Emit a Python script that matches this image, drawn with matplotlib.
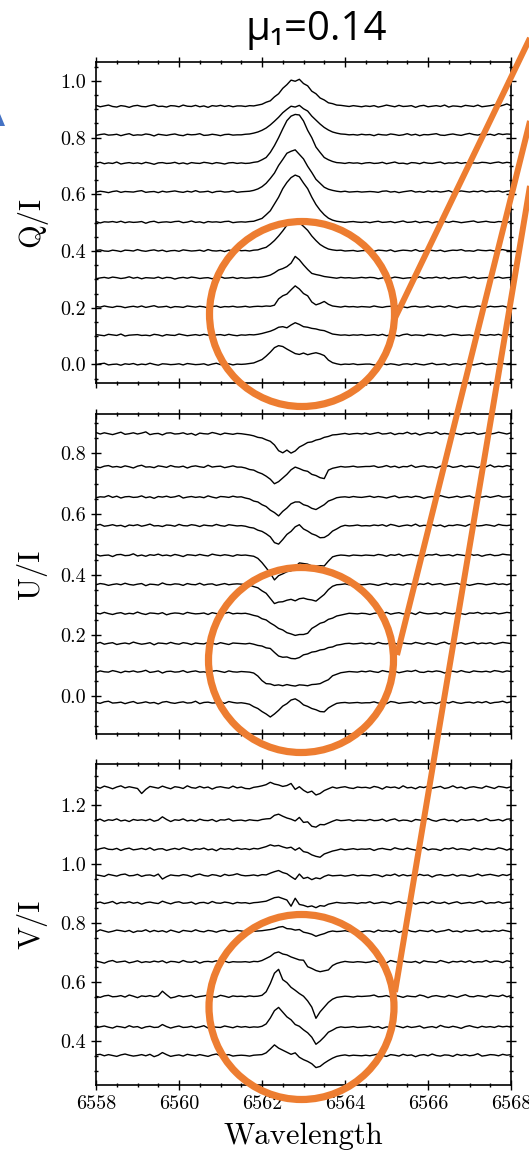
import numpy as np
import matplotlib
matplotlib.use("Agg")
import matplotlib.pyplot as plt
from matplotlib.ticker import MultipleLocator, FormatStrFormatter
from matplotlib.patches import Circle, Polygon

plt.rcParams['font.family'] = 'cmr10'
plt.rcParams['axes.unicode_minus'] = False
plt.rcParams['mathtext.fontset'] = 'cm'

# wavelength sampling (Angstrom), 0.1 A steps
wave = np.round(np.arange(6558.0, 6568.05, 0.1), 1)

# vertical offsets of the stacked spectra, bottom to top
q_offsets = [0.000, 0.103, 0.203, 0.305, 0.401, 0.502, 0.609, 0.710, 0.810, 0.911]
u_offsets = [-0.022, 0.080, 0.173, 0.272, 0.368, 0.464, 0.562, 0.656, 0.756, 0.865]
v_offsets = [0.351, 0.447, 0.551, 0.668, 0.772, 0.868, 0.961, 1.050, 1.148, 1.259]

# Stokes profiles in units of 1e-3, one row per 0.1 A
# (6558.0-6561.4 | 6561.5-6564.5 | 6564.6-6568.0)
q0 = [-1,2,4,-2,0, 1,-3,2,0,3, -2,1,-1,4,0, -3,2,1,-1,0, 2,-2,3,1,-1, 0,2,-3,1,4, -1,0,2,-2,1,
      0,1,3,5,11,17,29,43,59,66,63,54,46,38,35,40,34,38,41,37,31,15,6,2,-1,1,0,2,-1,0,1,
      1,-2,0,3,-1, 2,0,-3,1,2, -1,3,0,-2,1, 4,-1,0,2,-3, 1,2,-1,3,0, -2,1,4,-1,0, 2,-1,3,1,4]
q1 = [2,0,-2,3,1, -1,4,-3,0,1, 2,-1,0,-2,3, 1,-3,2,0,-1, 4,1,-2,0,2, -1,3,0,-2,1, 2,-1,3,0,-2,
      1,0,2,1,3,6,10,14,20,28,30,26,36,44,38,30,28,24,22,18,16,10,4,2,0,1,-1,1,0,2,-1,
      0,2,-1,3,-2, 1,0,-3,2,4, -1,1,0,-2,3, 2,-1,1,-3,0, 3,2,-1,0,1, -2,4,1,-1,2, 0,3,-2,1,2]
q2 = [1,-1,3,0,-2, 2,1,-3,0,2, -1,3,-2,1,4, -1,0,2,-3,1, 0,-2,3,1,-1, 2,0,-4,1,3, -2,1,0,2,-1,
      0,2,-1,1,2,1,3,2,6,28,39,45,60,74,63,47,39,17,7,12,19,9,3,1,-1,2,0,1,-1,1,0,
      -1,3,0,-2,1, 2,-1,4,0,-3, 1,2,-1,0,3, -2,1,2,-1,4, 0,-3,1,2,0, -1,3,1,-2,2, 0,1,3,-1,2]
q3 = [-3,0,2,-1,3, 1,-2,0,4,-1, 2,-3,1,0,-1, 3,-2,2,1,-4, 0,2,-1,3,1, -2,0,1,-3,2, 4,-1,0,2,-2,
      1,-1,0,2,1,3,6,10,18,28,33,40,52,76,64,46,30,16,12,9,5,3,1,-1,2,0,1,-1,0,2,0,
      2,1,-3,0,2, -1,3,1,-2,0, 1,-1,4,-2,1, 0,3,-1,2,-3, 1,0,2,4,-1, 3,-2,0,1,2, 0,3,-1,1,2]
q4 = [1,3,-1,-2,2, 0,-3,2,1,-1, 4,0,-2,1,3, -1,2,-3,0,1, -2,3,1,-1,0, 2,-2,4,0,-1, 1,-3,2,0,3,
      0,1,-1,2,3,8,12,23,36,52,70,90,100,106,99,86,72,52,36,22,13,6,3,1,2,-1,0,1,-2,0,1,
      0,-2,2,1,-1, 3,-3,0,2,1, -1,4,-2,0,3, 1,-1,2,-3,0, 2,1,4,-1,0, -2,3,1,0,2, -1,2,4,1,0]
q5 = [2,-3,1,0,2, -1,3,-2,1,-1, 0,2,-4,1,3, -2,0,1,-1,2, 3,-2,0,4,-1, 1,-3,2,0,1, -1,2,3,-2,0,
      1,0,2,3,8,13,26,40,64,88,118,140,157,166,160,138,118,88,62,42,26,14,7,3,1,-1,1,2,0,-1,1,
      -2,1,3,-1,0, 2,-2,1,4,-1, 0,3,-2,1,2, -3,1,0,2,-1, 3,1,-2,0,2, 4,-1,1,3,0, -1,2,1,-2,3]
q6 = [-1,2,0,-3,1, 3,-2,1,0,-1, 2,4,-2,0,1, -3,2,-1,1,3, 0,-2,2,-1,4, -1,0,2,-3,1, 2,-1,0,3,-2,
      0,1,2,5,10,18,30,47,66,93,114,136,143,148,132,116,90,68,44,30,16,9,5,2,0,2,-1,0,1,-1,0,
      1,0,-2,2,3, -1,1,-3,0,2, 4,-1,1,-2,3, 0,2,-1,1,4, -2,0,3,1,-1, 2,0,4,-1,2, 1,3,-1,2,4]
q7 = [0,3,-2,1,-1, 4,-3,0,2,-1, 1,-2,3,0,-4, 1,2,-1,0,3, -2,1,-3,2,0, -1,3,1,-2,2, 0,-3,1,2,-1,
      1,-1,0,3,5,12,20,38,62,90,121,150,166,172,170,149,116,90,57,38,20,12,6,2,1,-1,2,0,1,-2,1,
      2,-1,0,3,-2, 1,4,-1,0,-3, 2,1,-2,3,0, -1,2,4,-2,1, 0,3,-1,2,-2, 1,0,3,2,-1, 2,4,0,3,1]
q8 = [-2,1,3,-1,0, 2,-3,1,4,-2, 0,-1,3,1,-4, 2,0,-2,1,3, -1,-3,2,0,1, 4,-2,-1,2,0, -3,1,2,-1,0,
      0,2,3,6,10,16,24,35,48,62,78,90,101,98,104,92,84,66,52,38,26,17,10,6,3,2,0,1,-1,2,0,
      1,-3,2,0,-1, 3,1,-2,0,4, -1,2,-3,1,0, 2,4,-1,-2,1, 3,0,-2,2,5, 1,-1,3,0,2, -2,4,1,3,2]
q9 = [3,-2,1,4,-1, -3,2,0,-4,1, 3,-1,-2,2,5, -1,0,-3,2,1, -2,4,0,-1,3, -2,1,-4,2,0, 3,-1,2,-2,1,
      1,-1,2,1,4,7,14,19,33,44,63,76,92,88,95,80,72,53,44,29,22,12,9,4,3,1,-1,2,0,-2,1,
      -1,2,-3,0,4, 1,-2,3,-1,0, 2,-4,1,3,-2, 0,2,-1,4,-3, 1,0,-2,3,1, -1,4,-2,0,2, 5,-1,3,8,2]

u0 = [1,-2,3,5,-1, 0,2,-3,1,4, -2,0,3,-1,1, -4,2,4,0,-2, 1,3,-1,0,5, -3,1,2,-1,0, 3,-2,4,1,-1,
      0,-2,-5,-13,-19,-29,-37,-47,-37,-25,-11,-3,9,13,5,-7,-12,-19,-23,-29,-30,-17,-9,-2,0,1,-1,0,1,-1,0,
      0,3,-1,1,-3, 4,2,-2,0,1, 3,-1,5,-2,0, 1,-3,2,3,-1, 4,0,-2,1,2, -1,3,0,4,-2, 1,2,5,0,3]
u1 = [-2,3,0,-1,4, 1,-3,2,0,3, -1,1,5,-2,0, 3,-4,1,2,-1, 0,4,-2,1,3, -1,0,-3,2,4, 1,-2,3,0,-1,
      1,0,-1,-4,-14,-29,-39,-40,-45,-43,-46,-42,-45,-47,-43,-44,-46,-42,-41,-39,-32,-26,-13,-8,-3,-1,1,0,-1,2,0,
      3,0,-2,4,1, -1,2,-3,0,3, 1,5,-1,-2,2, 0,3,1,-4,1, 2,-1,4,0,-2, 3,1,0,2,-1, 4,2,-1,3,1]
u2 = [0,4,-2,1,3, -3,0,2,-1,5, 1,-2,0,3,-4, 2,1,-1,4,0, -2,3,1,-3,2, 0,-1,4,1,-2, 3,0,-3,2,1,
      0,-1,1,-2,-6,-8,-14,-16,-29,-41,-45,-44,-49,-50,-46,-37,-34,-28,-26,-21,-19,-13,-11,-5,-3,0,1,-1,0,2,-1,
      1,-2,4,0,-1, 3,1,-3,2,0, -1,4,1,-2,3, 0,-3,2,5,-1, 1,0,3,-2,1, 4,-1,2,0,3, -2,1,4,2,0]
u3 = [2,-1,4,0,-3, 1,3,-2,1,-1, 5,0,-3,2,1, -1,3,-4,0,2, 1,-2,4,1,-1, 0,2,-3,3,0, -2,1,4,-1,1,
      0,1,-2,-6,-9,-17,-21,-31,-39,-49,-54,-63,-67,-72,-69,-69,-65,-49,-41,-32,-28,-19,-15,-8,-5,-2,1,0,-1,1,0,
      -3,1,2,0,4, -2,1,3,-1,0, 2,-3,5,1,-1, 0,2,-2,4,1, -1,3,0,-3,2, 1,4,-1,2,0, 3,-1,1,4,2]
u4 = [-1,3,1,-3,0, 2,-1,4,0,-2, 1,3,-4,1,0, -2,5,0,-1,2, 1,-3,3,0,-1, 4,-2,1,2,-3, 0,3,-1,1,2,
      1,0,-2,-7,-11,-21,-29,-46,-63,-58,-57,-52,-49,-54,-47,-45,-49,-51,-55,-44,-33,-17,-6,-1,0,2,-1,0,1,-1,0,
      2,0,-3,1,4, -1,2,0,-2,3, 1,-4,2,0,5, -1,1,3,-2,0, 2,4,-1,1,-3, 0,3,2,-1,1, 4,0,2,-1,3]
u5 = [3,-2,0,1,-4, 2,3,-1,0,5, -2,1,-3,2,0, 4,-1,1,-2,3, 0,-4,2,1,-1, 3,0,-2,4,1, -1,2,0,-3,2,
      0,1,-1,-3,-10,-24,-41,-59,-81,-67,-61,-54,-51,-38,-25,-27,-29,-35,-36,-34,-35,-19,-5,-1,1,0,-2,1,0,-1,1,
      0,-1,3,1,-3, 2,0,4,-2,1, 3,-1,0,-3,2, 1,4,-1,0,2, -2,3,1,-1,5, 0,2,-3,1,3, -1,0,4,2,1]
u6 = [1,4,-2,0,3, -1,1,-4,2,0, 3,-2,1,5,-1, 0,-3,2,1,-2, 4,0,-1,3,1, -3,2,0,-1,4, 0,-2,3,1,-1,
      0,-2,-6,-8,-15,-19,-27,-37,-56,-61,-46,-29,-19,-4,3,-11,-18,-27,-32,-40,-39,-31,-18,-11,-3,1,-1,0,2,-1,0,
      -1,2,0,3,-2, 4,1,-3,0,2, -1,5,-2,1,0, 3,-1,2,-4,1, 0,3,1,-2,4, 2,-1,0,3,1, -2,4,1,0,2]
u7 = [-2,1,0,5,-1, 3,-3,1,2,-1, 0,4,-2,1,-4, 2,0,3,-1,1, 5,-3,0,2,-1, 1,-2,4,0,-3, 2,1,-1,3,0,
      1,-3,-6,-13,-16,-25,-31,-43,-51,-62,-47,-36,-22,-16,-16,-25,-29,-37,-41,-33,-25,-13,-8,-2,0,1,-1,2,0,-1,1,
      3,-1,2,0,-3, 1,4,-2,0,2, -1,3,1,-4,0, 2,-1,5,1,-2, 0,3,-1,2,4, -2,1,0,3,-1, 2,5,0,1,3]
u8 = [0,-3,2,4,-1, 1,-2,3,0,-4, 2,5,-1,0,-3, 3,1,-2,4,0, -1,2,-4,1,3, 0,-2,5,-1,1, 2,-3,0,3,-1,
      -1,-4,-9,-11,-18,-23,-31,-41,-56,-49,-37,-25,-10,-1,-6,-12,-15,-25,-29,-36,-39,-11,-5,-2,1,-1,0,2,-1,0,1,
      1,3,-2,0,4, -1,2,-3,1,0, 5,-2,1,3,-1, 0,-4,2,1,3, -2,0,4,-1,2, 1,-3,3,0,6, -1,2,0,4,1]
u9 = [4,-1,3,0,-3, 1,5,-2,0,3, -1,2,6,-3,0, 1,-4,2,3,-1, 0,3,-2,1,-5, 2,0,-1,4,1, -3,2,0,-2,1,
      0,-2,-4,-7,-12,-14,-20,-25,-37,-56,-63,-54,-64,-57,-44,-37,-29,-27,-21,-18,-12,-9,-4,-3,-1,1,-2,0,1,-1,2,
      -2,1,4,-1,0, 3,-3,1,0,5, -1,2,-4,0,3, 1,6,-2,1,-1, 3,0,-3,2,1, 4,-2,0,3,-1, 1,5,2,-1,3]

v0 = [2,4,-1,3,0, -3,2,5,1,-2, 0,3,-1,4,-4, 1,10,3,-3,0, 2,-2,4,1,-1, 3,0,-3,2,5, -1,1,3,-2,0,
      1,0,-2,1,2,3,9,22,36,25,18,11,4,9,-6,-14,-20,-28,-41,-37,-26,-17,-9,-3,0,2,-1,1,0,-1,1,
      -1,2,5,0,-3, 3,1,-2,4,0, 2,-4,1,3,-1, 5,0,-2,2,1, -3,4,0,3,-1, 1,6,-2,0,3, 2,-1,4,1,3]
v1 = [-2,1,4,0,-3, 3,1,-2,5,0, 2,-4,1,3,-1, 0,9,2,-3,1, 4,-1,0,3,-2, 1,5,-3,2,0, -1,4,1,-2,3,
      0,2,-1,1,0,3,11,31,56,67,51,35,25,9,3,-9,-19,-34,-58,-47,-33,-17,-10,-2,1,-1,0,2,-1,0,1,
      3,-1,2,-4,1, 0,5,2,-2,3, -1,1,4,-3,0, 2,-2,6,1,-1, 3,0,-4,2,5, 1,-2,3,0,2, -1,4,1,3,0]
v2 = [1,-3,2,4,-1, 0,3,-2,5,1, -4,2,0,3,-1, 2,18,6,-5,-2, 3,-1,1,4,-3, 0,2,5,-1,-2, 4,1,-3,2,0,
      1,-1,2,0,1,4,16,44,79,92,57,47,31,21,10,1,-15,-36,-74,-52,-36,-20,-9,-3,-1,1,0,-2,1,0,1,
      2,5,-1,0,3, -2,4,1,-3,2, 0,-1,5,2,-4, 1,3,0,-2,4, 1,-3,2,6,0, -1,3,1,-2,4, 2,0,5,-1,3]
v3 = [3,0,-4,2,5, -1,1,3,-3,0, 4,-2,1,-1,3, 0,4,-3,2,1, -2,5,0,-1,3, -4,1,2,0,4, -1,3,-2,1,0,
      0,1,-1,2,1,5,12,19,30,34,27,24,17,12,7,6,-16,-22,-29,-33,-30,-27,-12,-5,-1,2,0,-1,1,0,-2,
      0,4,-1,2,-3, 5,1,-2,3,0, -1,2,-4,4,1, 0,-2,5,1,-3, 2,0,3,-1,4, -2,1,0,5,-1, 3,2,-2,4,1]
v4 = [-2,5,1,-3,0, 4,2,-1,3,-4, 1,0,5,-2,3, -1,2,-3,4,0, -4,3,1,-1,5, 0,-2,3,1,-3, 2,4,-1,0,3,
      1,-1,2,0,1,2,4,6,9,14,16,9,8,4,6,-3,-6,-10,-17,-12,-8,-2,1,-1,0,2,-1,1,0,-2,1,
      1,-3,4,0,2, -1,3,-4,1,5, 0,-2,3,1,-1, 4,-3,0,2,6, -1,1,-3,3,0, 2,5,-2,1,-1, 3,0,4,1,-2]
v5 = [0,3,-2,1,5, -3,2,0,4,-1, 2,-4,1,3,0, -2,6,1,-3,2, 4,-1,0,3,-4, 1,2,-2,5,0, -1,3,1,-3,2,
      0,1,-2,1,2,4,6,12,18,20,15,10,-11,16,-5,-8,-13,-10,-16,-9,-11,-4,-1,2,0,-1,1,0,-2,1,0,
      4,-2,0,3,1, -3,2,5,-1,0, 3,-4,1,2,-2, 5,0,-1,3,-3, 1,4,-2,0,2, -1,3,6,-2,1, 0,4,-1,2,3]
v6 = [2,0,-3,4,1, -2,3,5,-1,0, 4,-3,1,2,-2, 5,-12,-4,2,0, -1,3,1,-4,2, 5,0,-2,3,1, -3,4,0,2,6,
      1,-1,0,2,-1,3,2,8,13,17,10,6,-4,-13,5,-10,-6,-14,-8,-11,-3,2,-1,0,1,-2,0,3,-1,1,0,
      -1,3,1,-4,2, 0,5,-2,3,-1, 1,-3,4,0,2, -5,1,3,-1,0, 4,-2,2,1,-3, 0,5,-1,2,4, 1,-2,3,0,5]
v7 = [-3,2,5,0,-1, 3,-4,1,4,-2, 0,3,-1,5,-3, 1,2,-4,0,3, -1,5,1,-3,2, 0,4,-2,1,-5, 3,0,2,-1,4,
      0,2,-1,3,1,5,9,15,11,13,8,4,7,-3,5,-8,-11,-19,-24,-27,-16,-11,-6,-3,1,-2,0,2,-1,1,0,
      2,-4,1,3,0, -2,5,1,-1,4, 0,-3,2,6,-2, 1,0,-4,3,1, 5,-1,2,0,-3, 4,1,-2,3,0, -1,5,2,-3,3]
v8 = [1,4,-3,2,0, 5,-2,1,-4,3, 0,2,-1,4,-3, 1,12,3,-4,2, 0,5,-2,1,-3, 4,0,-1,3,-4, 2,1,5,-2,0,
      1,-2,2,0,-1,3,5,6,17,21,14,8,4,-2,10,-7,-5,-20,-23,-14,-15,-9,-3,2,-1,0,2,-2,1,0,-1,
      3,-1,0,4,-3, 2,5,-2,1,0, -4,3,1,-1,6, 0,-3,2,4,-1, 1,-5,3,0,2, 4,-2,1,6,-1, 0,3,-2,4,5]
v9 = [3,-2,5,1,-4, 2,6,-1,3,0, -3,-20,-6,4,1, -2,5,0,-4,3, 1,-3,6,0,-2, 4,-1,2,-5,1, 3,0,-2,5,-1,
      2,-3,-4,1,3,6,10,18,12,9,4,7,14,-6,3,-9,-17,-12,-25,-20,-10,-4,2,-2,1,3,-1,-3,2,0,1,
      -2,4,1,-5,3, 0,2,-3,6,-1, 1,-4,3,0,5, -2,1,4,-3,0, 6,-1,2,-4,1, 3,0,-2,5,1, -3,4,2,-1,3]

q_curves = [q0, q1, q2, q3, q4, q5, q6, q7, q8, q9]
u_curves = [u0, u1, u2, u3, u4, u5, u6, u7, u8, u9]
v_curves = [v0, v1, v2, v3, v4, v5, v6, v7, v8, v9]

W, H = 529, 1153
ORANGE = '#ED7D31'

fig = plt.figure(figsize=(W / 100, H / 100), dpi=100)


def px_axes(left, top, right, bottom):
    return fig.add_axes([left / W, 1 - bottom / H, (right - left) / W, (bottom - top) / H])


def draw_panel(ax, offsets, curves, ylim, yticks, ylabel, xlabels=False):
    for off, prof in zip(offsets, curves):
        ax.plot(wave, off + np.asarray(prof) / 1000.0, color='k', lw=1.0)
    ax.set_xlim(6558, 6568)
    ax.set_ylim(*ylim)
    ax.set_yticks(yticks)
    ax.yaxis.set_major_formatter(FormatStrFormatter('%.1f'))
    ax.yaxis.set_minor_locator(MultipleLocator(0.05))
    ax.xaxis.set_major_locator(MultipleLocator(2))
    ax.xaxis.set_minor_locator(MultipleLocator(0.5))
    ax.xaxis.set_major_formatter(FormatStrFormatter('%d'))
    ax.tick_params(which='both', direction='inout', top=True, right=True,
                   labelsize=14.5, width=1.0, pad=4)
    ax.tick_params(which='major', length=6.5)
    ax.tick_params(which='minor', length=3.5)
    ax.tick_params(axis='x', labelbottom=xlabels)
    for s in ax.spines.values():
        s.set_linewidth(1.2)
    ax.set_ylabel(ylabel, fontsize=22)
    ax.yaxis.set_label_coords(-0.118, 0.5)


ax_q = px_axes(96, 62, 511, 382.5)
draw_panel(ax_q, q_offsets, q_curves, (-0.064, 1.067), np.arange(0, 1.01, 0.2), 'Q/I')

ax_u = px_axes(96, 414.3, 511, 734.3)
draw_panel(ax_u, u_offsets, u_curves, (-0.126, 0.929), np.arange(0, 0.81, 0.2), 'U/I')

ax_v = px_axes(96, 764.3, 511, 1085)
draw_panel(ax_v, v_offsets, v_curves, (0.251, 1.338), np.arange(0.4, 1.21, 0.2), 'V/I',
           xlabels=True)
ax_v.set_xlabel('Wavelength', fontsize=22, labelpad=7)

# annotation layer in figure pixels
ov = fig.add_axes([0, 0, 1, 1], zorder=10)
ov.set_xlim(0, W)
ov.set_ylim(H, 0)
ov.axis('off')
ov.patch.set_alpha(0)

for cx, cy in [(302, 314), (301, 660), (301.5, 1007)]:
    ov.add_patch(Circle((cx, cy), 92.5, fill=False, ec=ORANGE, lw=5.2))

for (x0, y0), (x1, y1) in [((395, 318), (531, 36)),
                           ((397, 655), (531, 117)),
                           ((395, 992), (531, 180))]:
    ov.plot([x0, x1], [y0, y1], color=ORANGE, lw=4.3, solid_capstyle='butt')

ov.add_patch(Polygon([(0, 114), (5, 126), (0, 126)], closed=True, fc='#4472C4', ec='none'))

fig.text(316 / W, 1 - 40 / H, 'μ₁=0.14', ha='center', va='baseline', fontsize=29,
         family=['Open Sans', 'DejaVu Sans'])

fig.savefig('out.png', dpi=100)
